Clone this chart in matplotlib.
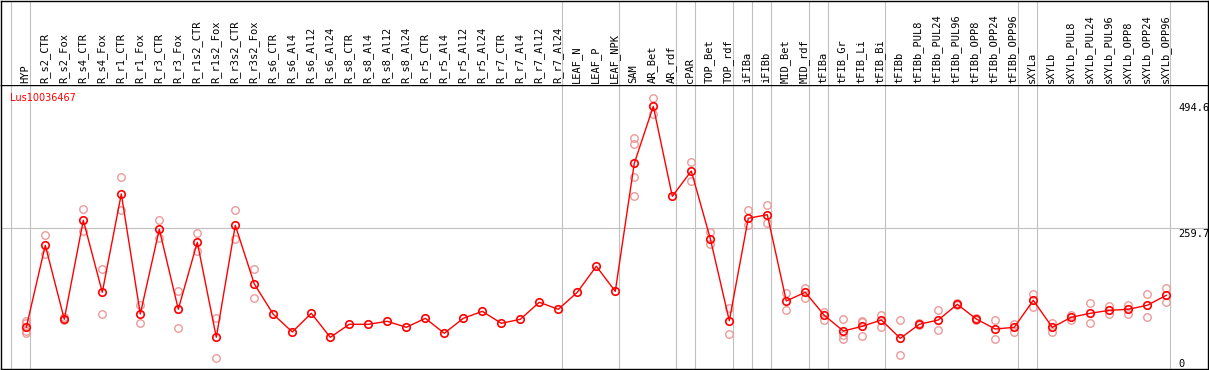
import matplotlib
matplotlib.use("Agg")
import matplotlib.pyplot as plt
from matplotlib.transforms import offset_copy

# ---------------- data ----------------
gene_id = "Lus10036467"

samples = [
    "HYP", "R_s2_CTR", "R_s2_Fox", "R_s4_CTR", "R_s4_Fox", "R_r1_CTR", "R_r1_Fox",
    "R_r3_CTR", "R_r3_Fox", "R_r1s2_CTR", "R_r1s2_Fox", "R_r3s2_CTR", "R_r3s2_Fox",
    "R_s6_CTR", "R_s6_Al4", "R_s6_Al12", "R_s6_Al24", "R_s8_CTR", "R_s8_Al4",
    "R_s8_Al12", "R_s8_Al24", "R_r5_CTR", "R_r5_Al4", "R_r5_Al12", "R_r5_Al24",
    "R_r7_CTR", "R_r7_Al4", "R_r7_Al12", "R_r7_Al24", "LEAF_N", "LEAF_P", "LEAF_NPK",
    "SAM", "AR_Bet", "AR_rdf", "cPAR", "TOP_Bet", "TOP_rdf", "iFIBa", "iFIBb",
    "MID_Bet", "MID_rdf", "tFIBa", "tFIB_Gr", "tFIB_Li", "tFIB_Bi", "tFIBb",
    "tFIBb_PUL8", "tFIBb_PUL24", "tFIBb_PUL96", "tFIBb_OPP8", "tFIBb_OPP24", "tFIBb_OPP96",
    "sXYLa", "sXYLb", "sXYLb_PUL8", "sXYLb_PUL24", "sXYLb_PUL96", "sXYLb_OPP8",
    "sXYLb_OPP24", "sXYLb_OPP96",
]

mean_values = [
    69.1, 227.0, 84.5, 275.1, 136.5, 325.8, 94.7, 257.8, 103.8, 232.8, 49.9, 265.5, 152.5,
    94.1, 60.1, 96.1, 49.9, 74.9, 74.9, 80.7, 69.1, 86.4, 57.6, 86.4, 99.9,
    76.8, 84.5, 117.3, 103.8, 136.5, 186.6, 138.4,
    384.9, 494.6, 321.3, 370.0, 239.7, 81.8, 279.0, 285.9,
    119.8, 136.5, 92.2, 62.0, 71.0, 83.2, 47.9,
    74.9, 83.2, 113.4, 85.1, 65.8, 69.1,
    121.1, 69.1, 88.4, 96.1, 101.8, 103.8, 111.5, 130.7,
]

replicate_values = [
    [81.1, 76.8, 62.0, 57.6], [246.2, 209.7], [88.4, 83.2], [296.3, 254.5], [180.8, 94.7],
    [357.9, 295.0], [112.1, 76.8], [275.1, 240.5], [138.4, 67.2], [250.1, 215.4],
    [86.4, 10.6], [294.4, 238.5], [180.8, 125.0],
    [], [], [], [], [], [], [], [], [], [], [], [], [], [], [], [], [], [], [],
    [433.6, 421.4, 359.1, 321.3], [510.6, 479.2], [], [387.4, 350.2], [252.6, 229.5],
    [106.3, 55.6], [294.4, 265.5], [304.0, 270.5],
    [135.2, 101.8], [145.4, 125.0], [98.0, 83.8], [85.1, 54.3, 46.0], [81.8, 78.5, 52.9],
    [92.2, 70.3], [83.2, 15.2],
    [76.8, 73.0], [101.8, 63.3], [115.0, 112.0], [87.0, 82.6], [83.2, 46.0], [74.9, 60.6],
    [132.7, 107.6], [77.4, 60.6], [92.2, 83.2], [115.3, 76.8], [110.1, 94.1],
    [112.1, 95.3], [132.7, 89.5], [144.2, 118.4],
]

# indices where a new tissue group starts (gray separators)
group_starts = [0, 1, 29, 32, 35, 36, 38, 39, 40, 42, 43, 46, 53, 54, 61]

y_ticks = [494.6, 259.7, 0]
y_tick_labels = ["494.6", "259.7", "0"]
gridline_value = 259.7

# ---------------- style ----------------
RED = "#ff0000"
REP = "#eb9a9a"
GRAY = "#c0c0c0"

W, H = 1209, 370
fig = plt.figure(figsize=(W / 100, H / 100), dpi=100)

x_left_px, x_right_px = 1.0, 1208.0
sep_px = 85.0
bottom_px = 368.5

ax = fig.add_axes([x_left_px / W, (H - bottom_px) / H,
                   (x_right_px - x_left_px) / W, (bottom_px - sep_px) / H])
hx = fig.add_axes([x_left_px / W, (H - sep_px) / H,
                   (x_right_px - x_left_px) / W, (sep_px - 0.5) / H])

xlim = (-1.3316, 62.195)
ax.set_xlim(*xlim)
hx.set_xlim(*xlim)
ax.set_ylim(-10.2, 535.6)
hx.set_ylim(0, 1)

for a in (ax, hx):
    a.set_xticks([])
    a.set_yticks([])
    for s in a.spines.values():
        s.set_color("black")
        s.set_linewidth(1.0)
hx.spines["bottom"].set_visible(False)

# separators
for g in group_starts:
    for a in (ax, hx):
        a.axvline(g - 0.805, color=GRAY, lw=0.8, zorder=1)
ax.axhline(gridline_value, color=GRAY, lw=0.8, zorder=1)

# replicates
rx, ry = [], []
for i, reps in enumerate(replicate_values):
    for r in reps:
        rx.append(i)
        ry.append(r)
ax.plot(rx, ry, linestyle="none", marker="o", ms=5.4, mfc="none",
        mec=REP, mew=1.0, zorder=2)

# mean line
xs = list(range(len(samples)))
ax.plot(xs, mean_values, color=RED, lw=1.0, marker="o", ms=5.4, mfc="none",
        mec=RED, mew=1.2, zorder=3)

# sample labels
for i, name in enumerate(samples):
    hx.text(i - 0.05, 0.02, name, rotation=90, ha="center", va="bottom",
            family="DejaVu Sans Mono", fontsize=7.5, color="black")

# gene title
ax.text(0.0075, 0.971, gene_id, transform=ax.transAxes, ha="left", va="top",
        family="DejaVu Sans", fontsize=7.0, color=RED)

# y value labels on the right
label_dy = [2.2, -0.5, 3.0]
for v, lab, dy in zip(y_ticks, y_tick_labels, label_dy):
    tr = offset_copy(ax.transData, fig=fig, x=0, y=dy, units="points")
    ax.text(60.62, v, lab, transform=tr, ha="left", va="top",
            family="DejaVu Sans Mono", fontsize=7.5, color="black", clip_on=True)

fig.savefig("out.png", dpi=100)
